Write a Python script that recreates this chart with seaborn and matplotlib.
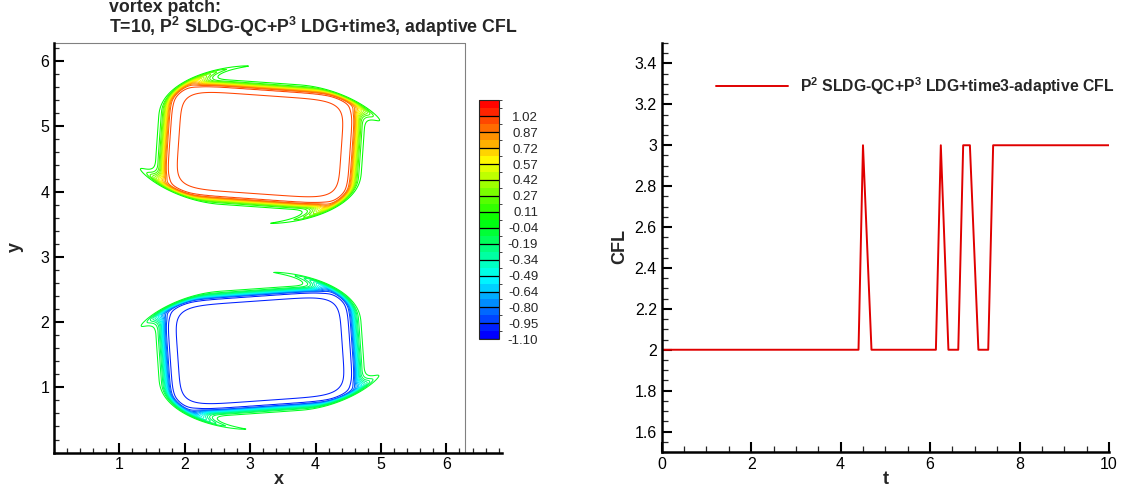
import numpy as np
import pandas as pd
import seaborn as sns
import matplotlib.pyplot as plt
from matplotlib.colors import LinearSegmentedColormap, BoundaryNorm
from matplotlib.cm import ScalarMappable
from matplotlib.ticker import MultipleLocator, FormatStrFormatter

sns.set_style("ticks")
plt.rcParams['font.family'] = ['Liberation Sans', 'DejaVu Sans']
plt.rcParams['mathtext.fontset'] = 'custom'
plt.rcParams['mathtext.rm'] = 'Liberation Sans:bold'
plt.rcParams['mathtext.default'] = 'rm'

# right panel: CFL history
t_vals = [0.0, 4.40, 4.50, 4.69, 6.13, 6.24, 6.41, 6.63, 6.74, 6.89, 7.08, 7.30, 7.41, 10.0]
cfl_vals = [2, 2, 3, 2, 2, 3, 2, 2, 3, 3, 2, 2, 3, 3]

# left panel: the two patches (top positive, bottom negative)
patch_cx = [3.15, 3.15]
patch_cy = [4.72, 1.56]
patch_half_x = [1.385, 1.385]
patch_half_y = [0.84, 0.84]
patch_tilt_deg = [-4.0, 4.0]
patch_sign = [1, -1]

# contour levels / colour bar
level_lo, level_hi, n_levels = -1.10, 1.17, 31
cbar_labels = ["-1.10", "-0.95", "-0.80", "-0.64", "-0.49", "-0.34", "-0.19", "-0.04",
               "0.11", "0.27", "0.42", "0.57", "0.72", "0.87", "1.02"]

levels = np.linspace(level_lo, level_hi, n_levels)
cmap = LinearSegmentedColormap.from_list(
    "modrainbow", [(0, "#0000ff"), (0.25, "#00ffff"), (0.5, "#00ff00"),
                   (0.75, "#ffff00"), (1.0, "#ff0000")])

# build vorticity-like field on [0, 2pi]^2
xg = np.linspace(0, 2 * np.pi, 800)
X, Y = np.meshgrid(xg, xg)
W = np.zeros_like(X)
p, w_out, dip, bump = 6.0, 0.075, 0.03, 0.06
rho0, twist, side_damp = 1.2, 12.0, 0.6
for cx, cy, a, b, phi, sgn in zip(patch_cx, patch_cy, patch_half_x, patch_half_y,
                                   patch_tilt_deg, patch_sign):
    ang = np.deg2rad(phi)
    u = (X - cx) * np.cos(ang) + (Y - cy) * np.sin(ang)
    v = -(X - cx) * np.sin(ang) + (Y - cy) * np.cos(ang)
    U, V = u / a, v / b
    rho = np.hypot(U, V)
    th = np.arctan2(V, U)
    tw = twist * (1 - side_damp * np.cos(th) ** 2)
    th = th + sgn * tw * np.clip(rho - rho0, 0, None) ** 2
    U, V = rho * np.cos(th), rho * np.sin(th)
    s = (np.abs(U) ** p + np.abs(V) ** p) ** (1 / p)
    d = s - 1
    inside = 1 + bump * (-d / dip) * np.exp(np.clip(1 + d / dip, None, 50))
    outside = np.exp(-(np.clip(d, 0, None) / w_out) ** 2)
    W += sgn * np.where(d < 0, inside, outside)

fig = plt.figure(figsize=(11.23, 4.93), dpi=100)

# ---- left: contour lines
ax1 = fig.add_axes([54 / 1123, 1 - 452.6 / 493, 448 / 1123, 410 / 493])
ax1.contour(X, Y, W, levels=levels, cmap=cmap, vmin=level_lo, vmax=level_hi,
            linewidths=0.75)
ax1.set_xlim(0, 6.85)
ax1.set_ylim(0, 2 * np.pi)
ax1.axvline(2 * np.pi, color="#808080", lw=0.8)
ax1.axhline(2 * np.pi, xmax=2 * np.pi / 6.85, color="#808080", lw=0.8, clip_on=False)
for side in ["top", "right"]:
    ax1.spines[side].set_visible(False)
for side in ["left", "bottom"]:
    ax1.spines[side].set_linewidth(1.8)
    ax1.spines[side].set_color("black")
ax1.xaxis.set_minor_locator(MultipleLocator(0.2))
ax1.yaxis.set_minor_locator(MultipleLocator(0.2))
ax1.set_xticks([1, 2, 3, 4, 5, 6])
ax1.set_yticks([1, 2, 3, 4, 5, 6])
ax1.tick_params(which="major", direction="in", length=7.5, width=1.5, labelsize=11.5,
                colors="black")
ax1.tick_params(which="minor", direction="in", length=3.5, width=0.9)
ax1.set_xlabel("x", fontsize=13, fontweight="bold")
ax1.set_ylabel("y", fontsize=13, fontweight="bold")
ax1.xaxis.label.set_va("center")
ax1.xaxis.set_label_coords((278.6 - 54) / 448, (452.6 - 480) / 410)
ax1.yaxis.label.set_va("center")
ax1.yaxis.set_label_coords((15.5 - 54) / 448, (452.6 - 246.7) / 410)

fig.text(109 / 1123, 1 - 7.5 / 493, "vortex patch:", ha="left", va="center",
         fontsize=12.8, fontweight="bold")
fig.text(109 / 1123, 1 - 27 / 493,
         "T=10, P$^2$ SLDG-QC+P$^3$ LDG+time3, adaptive CFL", ha="left", va="center",
         fontsize=12.8, fontweight="bold")

# colour bar
cbar_ticks = levels[:-1:2]
cax = fig.add_axes([478.6 / 1123, 1 - 339.3 / 493, 20.7 / 1123, 239 / 493])
sm = ScalarMappable(norm=BoundaryNorm(levels, cmap.N), cmap=cmap)
cb = fig.colorbar(sm, cax=cax, ticks=cbar_ticks)
cb.ax.set_yticklabels(cbar_labels)
cb.outline.set_linewidth(0.8)
for val in cbar_ticks:
    cax.axhline(val, color="black", lw=0.9)
cax.tick_params(length=0, labelsize=9.5, pad=28)
for lbl in cax.get_yticklabels():
    lbl.set_ha("right")

# ---- right: CFL vs t
ax2 = fig.add_axes([661.7 / 1123, 1 - 452 / 493, 447.3 / 1123, 409 / 493])
df = pd.DataFrame({"t": t_vals, "CFL": cfl_vals})
sns.lineplot(data=df, x="t", y="CFL", ax=ax2, color="#e00000", lw=1.4,
             label="P$^2$ SLDG-QC+P$^3$ LDG+time3-adaptive CFL")
ax2.set_xlim(0, 10)
ax2.set_ylim(1.5, 3.5)
for side in ["top", "right"]:
    ax2.spines[side].set_visible(False)
for side in ["left", "bottom"]:
    ax2.spines[side].set_linewidth(1.8)
    ax2.spines[side].set_color("black")
ax2.xaxis.set_major_locator(MultipleLocator(2))
ax2.xaxis.set_minor_locator(MultipleLocator(0.5))
ax2.set_yticks(np.arange(1.6, 3.41, 0.2))
ax2.yaxis.set_minor_locator(MultipleLocator(0.05))
ax2.yaxis.set_major_formatter(FormatStrFormatter("%g"))
ax2.tick_params(which="major", direction="in", length=7.5, width=1.5, labelsize=11.5,
                colors="black")
ax2.tick_params(which="minor", direction="in", length=4, width=0.9)
ax2.set_xlabel("t", fontsize=13, fontweight="bold")
ax2.set_ylabel("CFL", fontsize=13, fontweight="bold")
ax2.xaxis.label.set_va("center")
ax2.xaxis.set_label_coords((886 - 661.7) / 447.3, (452 - 480) / 409)
ax2.yaxis.label.set_va("center")
ax2.yaxis.set_label_coords((620 - 661.7) / 447.3, (452 - 246.7) / 409)
leg = ax2.legend(loc="center left", bbox_to_anchor=(715.7 / 1123, 1 - 86 / 493),
                 bbox_transform=fig.transFigure, frameon=False, borderpad=0,
                 borderaxespad=0, handlelength=4.6, handletextpad=0.8,
                 prop={"weight": "bold", "size": 11.3})

fig.savefig("out.png", dpi=100)
